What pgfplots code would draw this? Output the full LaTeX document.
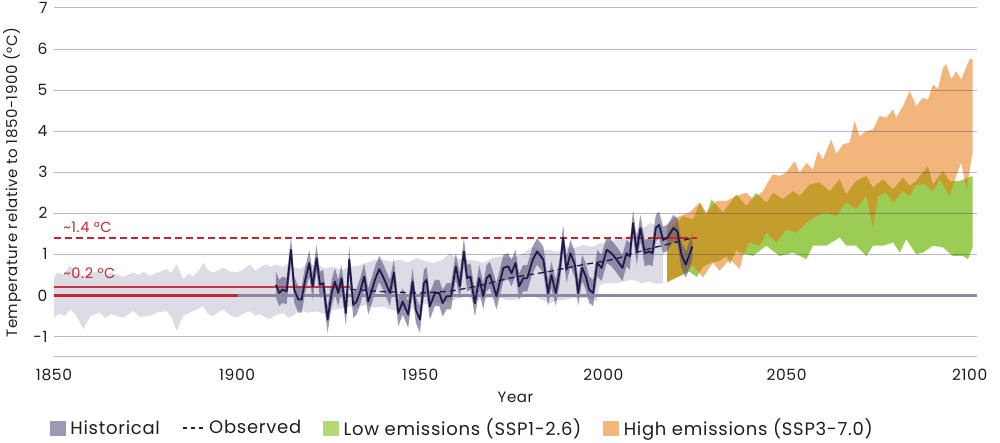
\documentclass[border=0pt]{standalone}
\usepackage{fontspec}
\setmainfont{Poppins}[LetterSpace=4]
\usepackage{pgfplots}
\pgfplotsset{compat=1.18}
\usepackage{pgfplotstable}
\usepgfplotslibrary{fillbetween}

\definecolor{lightband}{RGB}{221,220,230}
\definecolor{darkband}{RGB}{91,83,127}
\definecolor{histbox}{RGB}{157,153,180}
\definecolor{obsline}{RGB}{30,26,72}
\definecolor{greenc}{RGB}{155,205,85}
\definecolor{greenbox}{RGB}{178,216,122}
\definecolor{orangeT}{RGB}{231,118,12}
\definecolor{orangebox}{RGB}{243,182,125}
\definecolor{redc}{RGB}{193,39,45}
\definecolor{zeroc}{RGB}{140,136,162}
\definecolor{gridc}{RGB}{60,50,100}
\definecolor{txt}{RGB}{30,30,30}

\pgfplotstableread{
year obs up lo
1910.6 0.26 0.58 -0.06
1911.5 0.06 0.38 -0.26
1912.4 0.14 0.46 -0.18
1913.5 0.10 0.42 -0.22
1914.7 1.11 1.43 0.79
1915.6 0.14 0.46 -0.18
1916.7 -0.10 0.22 -0.42
1917.6 -0.10 0.22 -0.42
1918.5 0.34 0.66 0.02
1919.7 0.79 1.11 0.47
1920.6 0.22 0.54 -0.10
1921.7 0.91 1.23 0.59
1922.6 0.26 0.58 -0.06
1923.5 0.30 0.62 -0.02
1924.7 -0.59 -0.27 -0.91
1925.8 0.06 0.38 -0.26
1926.7 0.34 0.66 0.02
1927.6 0.06 0.38 -0.26
1928.5 0.42 0.74 0.10
1929.7 -0.43 -0.11 -0.75
1930.6 0.87 1.19 0.55
1931.7 -0.23 0.09 -0.55
1932.6 -0.15 0.17 -0.47
1933.6 0.10 0.42 -0.22
1934.7 0.46 0.78 0.14
1935.8 -0.15 0.17 -0.47
1936.7 0.10 0.42 -0.22
1937.7 0.40 0.72 0.08
1938.8 0.64 0.96 0.32
1939.6 0.50 0.82 0.18
1940.4 0.34 0.66 0.02
1941.7 0.06 0.38 -0.26
1942.8 0.56 0.88 0.24
1944.0 -0.43 -0.11 -0.75
1945.2 -0.15 0.17 -0.47
1946.7 -0.47 -0.15 -0.79
1947.9 0.34 0.66 0.02
1948.8 -0.35 -0.03 -0.67
1949.9 -0.59 -0.27 -0.91
1951.0 0.30 0.62 -0.02
1951.7 0.38 0.70 0.06
1952.6 -0.27 0.05 -0.59
1954.0 0.06 0.38 -0.26
1955.2 0.06 0.38 -0.26
1956.1 -0.19 0.13 -0.51
1957.2 -0.02 0.30 -0.34
1958.4 -0.02 0.30 -0.34
1959.7 0.71 1.03 0.39
1960.8 0.22 0.54 -0.10
1961.9 1.07 1.39 0.75
1962.8 0.42 0.74 0.10
1963.7 0.46 0.78 0.14
1964.9 -0.19 0.13 -0.51
1966.1 0.42 0.74 0.10
1967.2 -0.02 0.30 -0.34
1968.1 0.42 0.74 0.10
1969.0 0.50 0.82 0.18
1969.9 0.25 0.57 -0.07
1970.8 -0.02 0.30 -0.34
1971.8 0.35 0.67 0.03
1972.7 0.67 0.99 0.35
1974.0 0.71 1.03 0.39
1974.9 0.54 0.86 0.22
1976.0 0.79 1.11 0.47
1977.0 0.22 0.54 -0.10
1978.1 0.42 0.74 0.10
1979.2 0.42 0.74 0.10
1980.7 0.87 1.19 0.55
1981.9 1.07 1.39 0.75
1983.6 0.87 1.19 0.55
1984.9 0.06 0.38 -0.26
1985.8 0.50 0.82 0.18
1987.0 0.06 0.38 -0.26
1988.1 0.62 0.94 0.30
1989.0 1.40 1.72 1.08
1989.9 0.62 0.94 0.30
1991.0 1.03 1.35 0.71
1992.2 0.75 1.07 0.43
1993.1 0.06 0.38 -0.26
1994.2 0.67 0.99 0.35
1995.2 0.46 0.78 0.14
1996.1 0.14 0.46 -0.18
1997.2 0.06 0.38 -0.26
1998.3 0.79 1.11 0.47
1999.5 0.67 0.99 0.35
2000.9 1.11 1.43 0.79
2002.2 1.03 1.35 0.71
2003.6 0.87 1.19 0.55
2005.2 0.67 0.99 0.35
2006.3 1.03 1.35 0.71
2007.2 0.95 1.27 0.63
2008.1 1.76 2.08 1.44
2009.1 1.07 1.39 0.75
2010.1 1.64 1.96 1.32
2011.3 1.03 1.35 0.71
2012.5 1.07 1.39 0.75
2013.4 1.03 1.35 0.71
2014.3 1.64 1.96 1.32
2015.2 1.72 2.04 1.40
2016.3 1.35 1.67 1.03
2017.4 1.40 1.72 1.08
2018.3 1.52 1.84 1.20
2019.1 1.64 1.96 1.32
2020.2 1.56 1.88 1.24
2021.3 0.99 1.31 0.67
2022.5 0.75 1.07 0.43
2024.3 1.19 1.51 0.87
}\histdata

\begin{document}
\begin{tikzpicture}
\begin{axis}[
  at={(0pt,0pt)}, anchor=south west,
  scale only axis, width=923pt, height=349pt,
  xmin=1850, xmax=2102, ymin=-1.5, ymax=7,
  axis on top,
  axis line style={draw=none},
  major tick length=0pt,
  xtick={1850,1900,1950,2000,2050,2100},
  xticklabels={1850,1900,1950,2000,2050,2100},
  ytick={-1.5,-1,1,2,3,4,5,6,7},
  yticklabels={,-1,1,2,3,4,5,6,7},
  extra y ticks={0}, extra y tick labels={0},
  extra y tick style={grid=none},
  ymajorgrids,
  grid style={draw=gridc, draw opacity=0.35, line width=1pt},
  tick label style={font=\fontsize{15.5}{18}\selectfont, text=txt},
  yticklabel style={xshift=-3pt},
  xticklabel style={yshift=-9pt},
  xlabel={Year},
  ylabel={Temperature relative to 1850-1900 (°C)},
  label style={font=\fontsize{15}{18}\selectfont, text=txt},
  xlabel style={at={(axis description cs:0.5,0)}, anchor=center, yshift=-40pt},
  ylabel style={at={(axis description cs:-0.0455,0.5)}, anchor=center},
  legend style={at={(axis description cs:0,0)}, anchor=west, xshift=-4pt, yshift=-71pt,
    draw=none, fill=none, inner sep=0pt, outer sep=0pt,
    font=\fontsize{18}{21}\selectfont, text=txt,
    /tikz/every odd column/.append style={column sep=3pt},
    /tikz/every even column/.append style={column sep=20pt}},
  legend columns=4,
  legend cell align=left,
]
% light historical band
\addplot[name path=lu, draw=none, forget plot] coordinates {
(1850,0.45)(1851,0.56)(1852.5,0.50)(1854.4,0.72)(1856,0.55)(1858,0.47)(1860,0.55)(1862.5,0.60)
(1864,0.48)(1865.5,0.55)(1867.1,0.51)(1869,0.45)(1871.6,0.56)(1873,0.50)(1874.5,0.58)(1876.2,0.47)
(1878,0.55)(1880.7,0.64)(1882,0.55)(1883.5,0.76)(1885.3,0.39)(1886.5,0.52)(1888,0.47)(1889.5,0.60)
(1890.8,0.80)(1892,0.62)(1893.5,0.56)(1895,0.62)(1896.2,0.68)(1898,0.58)(1899.9,0.56)(1901.5,0.62)
(1903.5,0.76)(1905,0.60)(1906.2,0.68)(1908,0.76)(1909,0.70)(1910.5,0.75)(1912.6,0.70)(1914,0.78)
(1915.5,0.68)(1917.1,0.65)(1919,0.75)(1921.7,0.75)(1924,0.66)(1926.2,0.70)(1928.5,0.62)(1930.8,0.70)
(1933,0.72)(1935.3,0.79)(1937.5,0.86)(1939.9,0.87)(1942,0.82)(1944.4,0.87)(1946.5,0.80)(1949,0.91)
(1951,0.85)(1953.5,0.79)(1956,0.86)(1958.1,1.03)(1960,0.90)(1962.6,0.87)(1965,0.85)(1967.2,0.79)
(1969.5,0.90)(1971.7,0.95)(1974,0.92)(1976.3,0.95)(1978.5,1.05)(1980.8,1.19)(1983,1.10)(1985.4,1.11)
(1987.5,1.05)(1989.9,1.19)(1992,1.15)(1994.5,1.23)(1997,1.18)(1999,1.27)(2001,1.30)(2003.6,1.35)
(2006,1.42)(2008.1,1.52)(2010.5,1.60)(2012.7,1.76)(2014.5,1.70)(2016.3,1.68)};
\addplot[name path=ll, draw=none, forget plot] coordinates {
(1850,-0.54)(1851.5,-0.45)(1853,-0.50)(1854.4,-0.34)(1856,-0.48)(1858,-0.82)(1860,-0.50)(1862.5,-0.42)
(1864,-0.55)(1865.5,-0.45)(1867.1,-0.50)(1869,-0.55)(1871.6,-0.38)(1873.5,-0.52)(1876.2,-0.50)(1878,-0.42)
(1880.7,-0.38)(1882,-0.52)(1883.5,-0.86)(1885.3,-0.50)(1888,-0.38)(1890.8,-0.26)(1892,-0.45)(1893.5,-0.50)
(1895,-0.40)(1896.2,-0.34)(1898,-0.48)(1899.9,-0.54)(1901.5,-0.45)(1903.5,-0.38)(1905,-0.50)(1906.2,-0.45)
(1908,-0.55)(1909,-0.58)(1910.5,-0.48)(1912.6,-0.43)(1914,-0.55)(1915.5,-0.48)(1917.1,-0.35)(1919,-0.42)
(1921.7,-0.39)(1924,-0.45)(1926.2,-0.35)(1928.5,-0.32)(1930.8,-0.27)(1933,-0.30)(1935.3,-0.23)(1937.5,-0.30)
(1939.9,-0.27)(1942,-0.35)(1944.4,-0.39)(1946.5,-0.33)(1949,-0.31)(1951,-0.22)(1953.5,-0.19)(1956,-0.18)
(1958.1,-0.15)(1960,-0.08)(1962.6,-0.02)(1965,-0.12)(1967.2,-0.10)(1969.5,-0.05)(1971.7,-0.06)(1974,-0.12)
(1976.3,-0.10)(1978.5,-0.04)(1980.8,-0.02)(1983,-0.10)(1985.4,-0.19)(1987.5,-0.12)(1989.9,-0.10)(1992,-0.06)
(1994.5,-0.06)(1997,-0.10)(1998.2,-0.15)(1999,0.25)(2001,0.30)(2003.6,0.30)(2006,0.35)(2008.1,0.38)
(2010.5,0.30)(2012.7,0.34)(2014.5,0.28)(2016.3,0.30)};
\addplot[fill=lightband, draw=none, forget plot] fill between[of=lu and ll];

% low emissions (green)
\addplot[name path=gu, draw=none, forget plot] coordinates {
(2017.4,1.55)(2019.0,1.69)(2021.7,1.93)(2024.5,1.85)(2026.3,2.26)(2028.1,1.95)(2029.5,2.34)(2032.6,2.02)
(2036.3,2.46)(2039.0,2.18)(2041.7,2.50)(2044.5,2.26)(2046.3,2.50)(2049.0,2.34)(2051.8,2.54)(2053.6,2.42)
(2056.3,2.70)(2059.0,2.75)(2061.8,2.54)(2064.5,2.83)(2066.3,2.46)(2069.0,2.79)(2071.8,2.91)(2073.6,2.62)
(2076.3,2.83)(2079.1,2.58)(2081.8,2.87)(2083.6,2.67)(2085.4,2.79)(2088.6,3.15)(2090.0,2.70)(2092.7,3.03)
(2094.5,2.79)(2097.3,2.79)(2100.8,2.91)};
\addplot[name path=gl, draw=none, forget plot] coordinates {
(2017.4,0.31)(2019.0,0.39)(2021.7,0.50)(2023.5,0.58)(2025.5,0.45)(2027.2,0.70)(2029.5,0.80)(2031.7,0.84)
(2033.6,0.96)(2034.5,0.76)(2036.3,1.10)(2037.2,1.04)(2040.8,0.96)(2044.5,1.21)(2048.1,0.96)(2051.8,1.04)
(2055.4,0.88)(2057.2,1.21)(2060.9,1.21)(2064.5,1.41)(2066.3,1.21)(2069.0,1.21)(2071.8,0.96)(2073.6,1.21)
(2076.3,1.21)(2079.1,1.29)(2080.9,1.04)(2082.7,1.37)(2085.4,1.00)(2087.2,1.04)(2090.0,1.21)(2092.7,1.17)
(2095.4,0.96)(2098.2,0.96)(2099.5,0.88)(2100.8,1.17)};
\addplot[fill=greenc, draw=none, forget plot] fill between[of=gu and gl];

% high emissions (orange)
\addplot[name path=ou, draw=none, forget plot] coordinates {
(2017.4,1.70)(2019.0,1.85)(2020.8,1.93)(2023.5,2.02)(2026.3,2.26)(2028.1,2.02)(2030.8,2.30)(2033.6,2.30)
(2036.3,2.42)(2039.0,2.50)(2040.8,2.34)(2043.6,2.54)(2044.5,2.70)(2046.3,2.95)(2048.1,2.91)(2049.9,2.99)
(2052.2,3.27)(2053.6,2.99)(2055.4,3.23)(2057.2,3.07)(2058.6,3.52)(2059.9,3.31)(2062.2,3.80)(2063.6,3.44)
(2065.4,3.68)(2067.2,3.72)(2068.6,4.25)(2069.9,3.88)(2071.8,4.00)(2073.6,4.04)(2075.4,4.37)(2077.2,4.33)
(2079.1,4.53)(2079.9,4.33)(2081.8,4.61)(2083.6,4.98)(2085.4,4.61)(2087.2,4.81)(2088.6,4.77)(2090.0,5.14)
(2091.3,5.02)(2092.7,5.54)(2093.6,5.63)(2095.0,5.26)(2096.3,5.46)(2097.7,5.26)(2100.0,5.76)(2100.8,5.76)};
\addplot[name path=ol, draw=none, forget plot] coordinates {
(2017.4,0.35)(2020.8,0.48)(2024.5,0.72)(2027.2,0.44)(2029.9,0.80)(2031.7,0.60)(2034.5,0.88)(2037.2,0.64)
(2038.1,0.96)(2039.9,1.29)(2042.7,1.21)(2044.5,1.53)(2047.2,1.29)(2049.9,1.61)(2052.7,1.53)(2055.4,1.77)
(2058.1,1.93)(2060.9,2.02)(2063.6,1.93)(2066.3,2.26)(2069.0,2.10)(2071.8,2.42)(2073.6,1.65)(2075.0,2.42)
(2077.2,2.50)(2079.1,2.26)(2081.8,2.54)(2083.6,2.42)(2085.4,2.70)(2088.2,2.70)(2090.0,2.54)(2091.8,2.83)
(2094.5,2.42)(2096.3,2.91)(2097.7,3.23)(2099.1,2.58)(2100.8,3.48)};
\addplot[fill=orangeT, fill opacity=0.54, draw=none, forget plot] fill between[of=ou and ol];

% dark historical band
\addplot[name path=du, draw=none, forget plot] table[x=year, y=up] {\histdata};
\addplot[name path=dl, draw=none, forget plot] table[x=year, y=lo] {\histdata};
\addplot[fill=darkband, fill opacity=0.6, draw=none, forget plot] fill between[of=du and dl];

% zero line and reference lines
\addplot[zeroc, line width=2.2pt, forget plot] coordinates {(1900,0) (2102,0)};
\addplot[redc, line width=3pt, forget plot] coordinates {(1850,0) (1900.2,0)};
\addplot[redc, line width=1.8pt, opacity=0.9, forget plot] coordinates {(1850,0.2) (1930.8,0.2)};
\addplot[redc, line width=1.3pt, dash pattern=on 7pt off 4pt, forget plot] coordinates {(1850,1.4) (2025.5,1.4)};
\addplot[redc, line width=2.5pt, forget plot] coordinates {(2012.2,1.4) (2021.3,1.4)};

% observed line and trend
\addplot[obsline, line width=1.8pt, line join=round, forget plot] table[x=year, y=obs] {\histdata};
\addplot[obsline, line width=1.3pt, dash pattern=on 6pt off 4pt, forget plot] coordinates {
(1930.8,0.15)(1940,0.09)(1950,0.06)(1958,0.10)(1966,0.23)(1971,0.35)(1976,0.45)(1984.5,0.57)
(1994,0.74)(2003,0.88)(2011.8,1.12)(2019.1,1.28)(2024.3,1.40)};

\node[anchor=south west, inner sep=0pt, text=redc, font=\fontsize{14.5}{17}\selectfont, yshift=5pt] at (axis cs:1852.5,1.4) {\textasciitilde1.4 °C};
\node[anchor=south west, inner sep=0pt, text=redc, font=\fontsize{14.5}{17}\selectfont, yshift=8pt] at (axis cs:1852.5,0.2) {\textasciitilde0.2 °C};

\addlegendimage{legend image code/.code={\fill[histbox] (0pt,-7pt) rectangle (15pt,7pt);}}
\addlegendentry{Historical}
\addlegendimage{legend image code/.code={\draw[obsline, line width=1.3pt, dash pattern=on 4pt off 4pt] (0pt,0pt) -- (21pt,0pt);}}
\addlegendentry{Observed}
\addlegendimage{legend image code/.code={\fill[greenbox] (0pt,-7pt) rectangle (15pt,7pt);}}
\addlegendentry{Low emissions (SSP1-2.6)}
\addlegendimage{legend image code/.code={\fill[orangebox] (0pt,-7pt) rectangle (15pt,7pt);}}
\addlegendentry{High emissions (SSP3-7.0)}
\end{axis}
\pgfresetboundingbox
\useasboundingbox (-54pt,-86pt) rectangle (946pt,357pt);
\end{tikzpicture}
\end{document}
